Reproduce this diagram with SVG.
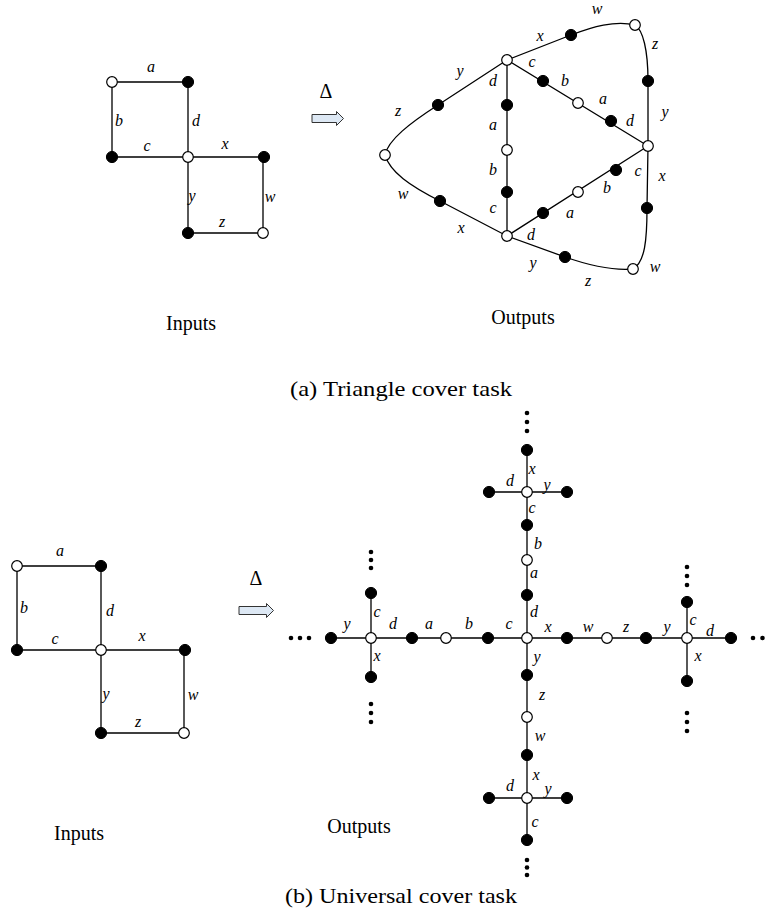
<svg xmlns="http://www.w3.org/2000/svg" width="766" height="917" viewBox="0 0 766 917">
<style>
.e{stroke:#000;stroke-width:1.3;fill:none}
.f{fill:#000;stroke:#000;stroke-width:1}
.o{fill:#fff;stroke:#000;stroke-width:1.2}
.d{fill:#000}
.l{font-family:"Liberation Serif",serif;font-style:italic;font-size:16px;text-anchor:middle}
.t{font-family:"Liberation Serif",serif;font-size:20px;text-anchor:middle}
.c{font-family:"Liberation Serif",serif;font-size:22px;text-anchor:middle}
.ar{fill:#dde8f4;stroke:#333;stroke-width:1}
</style>
<defs>
<circle id="nf" r="5.6" class="f"/>
<circle id="no" r="5.3" class="o"/>
</defs>
<rect width="766" height="917" fill="#fff"/>

<g id="connectors">
<path class="e" d="M112,82H188V233H263V157H112V82"/>
<path class="e" d="M507,60L648,146M507,236L648,146M507,60V236"/>
<path class="e" d="M507,60L571,35C592,27 615,20 635,25C643,30 648,50 648,81L648,146L647,208C647,240 645,262 633,269C610,271 585,264 565,257L507,236L440,201C410,186 390,172 385,155C388,140 410,123 438,105L507,60"/>
<path class="e" d="M17,566H101V733H184V650H17V566"/>
<path class="e" d="M331,638H731M527,450V840M371,593V677M687,602V681M489,492H567M489,798H567"/>
<path class="ar" d="M312,114.5H336.5V111.5L343.5,118.5L336.5,125.5V122.5H312Z"/>
<path class="ar" d="M239,606.5H266.5V603.5L273.5,610.5L266.5,617.5V614.5H239Z"/>
</g>

<g id="top-input-nodes">
<g id="ti1"><use href="#no" x="112" y="82"/></g>
<g id="ti2"><use href="#nf" x="188" y="82"/></g>
<g id="ti3"><use href="#nf" x="112" y="157"/></g>
<g id="ti4"><use href="#no" x="188" y="157"/></g>
<g id="ti5"><use href="#nf" x="264" y="157"/></g>
<g id="ti6"><use href="#nf" x="188" y="233"/></g>
<g id="ti7"><use href="#no" x="263" y="233"/></g>
</g>

<g id="top-output-nodes">
<g id="toA"><use href="#no" x="507" y="60"/></g>
<g id="toB"><use href="#no" x="648" y="146"/></g>
<g id="toC"><use href="#no" x="507" y="236"/></g>
<g id="toP"><use href="#no" x="635" y="25"/></g>
<g id="toQ"><use href="#no" x="633" y="269"/></g>
<g id="toL"><use href="#no" x="385" y="155"/></g>
<g id="to1"><use href="#nf" x="571" y="35"/></g>
<g id="to2"><use href="#nf" x="648" y="81"/></g>
<g id="to3"><use href="#nf" x="543" y="81"/></g>
<g id="to4"><use href="#no" x="578" y="103"/></g>
<g id="to5"><use href="#nf" x="611" y="121"/></g>
<g id="to6"><use href="#nf" x="507" y="105"/></g>
<g id="to7"><use href="#no" x="507" y="150"/></g>
<g id="to8"><use href="#nf" x="507" y="192"/></g>
<g id="to9"><use href="#nf" x="438" y="105"/></g>
<g id="to10"><use href="#nf" x="440" y="201"/></g>
<g id="to11"><use href="#nf" x="543" y="213"/></g>
<g id="to12"><use href="#no" x="578" y="192"/></g>
<g id="to13"><use href="#nf" x="616" y="170"/></g>
<g id="to14"><use href="#nf" x="647" y="208"/></g>
<g id="to15"><use href="#nf" x="565" y="257"/></g>
</g>

<g id="bottom-input-nodes">
<g id="bi1"><use href="#no" x="17" y="566"/></g>
<g id="bi2"><use href="#nf" x="101" y="566"/></g>
<g id="bi3"><use href="#nf" x="17" y="650"/></g>
<g id="bi4"><use href="#no" x="101" y="650"/></g>
<g id="bi5"><use href="#nf" x="185" y="650"/></g>
<g id="bi6"><use href="#nf" x="101" y="733"/></g>
<g id="bi7"><use href="#no" x="184" y="733"/></g>
</g>

<g id="bottom-output-nodes">
<g id="bh1"><use href="#nf" x="331" y="638"/></g>
<g id="bh2"><use href="#no" x="371" y="638"/></g>
<g id="bh3"><use href="#nf" x="412" y="638"/></g>
<g id="bh4"><use href="#no" x="446" y="638"/></g>
<g id="bh5"><use href="#nf" x="488" y="638"/></g>
<g id="bh6"><use href="#no" x="527" y="638"/></g>
<g id="bh7"><use href="#nf" x="567" y="638"/></g>
<g id="bh8"><use href="#no" x="607" y="638"/></g>
<g id="bh9"><use href="#nf" x="646" y="638"/></g>
<g id="bh10"><use href="#no" x="687" y="638"/></g>
<g id="bh11"><use href="#nf" x="731" y="638"/></g>
<g id="bl1"><use href="#nf" x="371" y="593"/></g>
<g id="bl2"><use href="#nf" x="371" y="677"/></g>
<g id="br1"><use href="#nf" x="687" y="602"/></g>
<g id="br2"><use href="#nf" x="687" y="681"/></g>
<g id="bv1"><use href="#nf" x="527" y="450"/></g>
<g id="bv2"><use href="#no" x="527" y="492"/></g>
<g id="bv3"><use href="#nf" x="527" y="525"/></g>
<g id="bv4"><use href="#no" x="527" y="560"/></g>
<g id="bv5"><use href="#nf" x="527" y="595"/></g>
<g id="bv6"><use href="#nf" x="527" y="675"/></g>
<g id="bv7"><use href="#no" x="527" y="717"/></g>
<g id="bv8"><use href="#nf" x="527" y="755"/></g>
<g id="bv9"><use href="#no" x="527" y="798"/></g>
<g id="bv10"><use href="#nf" x="527" y="840"/></g>
<g id="bt1"><use href="#nf" x="489" y="492"/></g>
<g id="bt2"><use href="#nf" x="567" y="492"/></g>
<g id="bb1"><use href="#nf" x="489" y="798"/></g>
<g id="bb2"><use href="#nf" x="567" y="798"/></g>
</g>

<g id="ellipses">
<circle class="d" r="2.3" cx="291" cy="638"/><circle class="d" r="2.3" cx="300" cy="638"/><circle class="d" r="2.3" cx="309" cy="638"/>
<circle class="d" r="2.3" cx="753" cy="638"/><circle class="d" r="2.3" cx="762.5" cy="638"/>
<circle class="d" r="2.3" cx="527" cy="413"/><circle class="d" r="2.3" cx="527" cy="422"/><circle class="d" r="2.3" cx="527" cy="431"/>
<circle class="d" r="2.3" cx="527" cy="860"/><circle class="d" r="2.3" cx="527" cy="867.5"/><circle class="d" r="2.3" cx="527" cy="875"/>
<circle class="d" r="2.3" cx="371" cy="552"/><circle class="d" r="2.3" cx="371" cy="560"/><circle class="d" r="2.3" cx="371" cy="568"/>
<circle class="d" r="2.3" cx="371" cy="704"/><circle class="d" r="2.3" cx="371" cy="713"/><circle class="d" r="2.3" cx="371" cy="722"/>
<circle class="d" r="2.3" cx="687" cy="567"/><circle class="d" r="2.3" cx="687" cy="576"/><circle class="d" r="2.3" cx="687" cy="585"/>
<circle class="d" r="2.3" cx="687" cy="713"/><circle class="d" r="2.3" cx="687" cy="722"/><circle class="d" r="2.3" cx="687" cy="731"/>
</g>

<g id="labels">
<text class="l" x="151" y="72">a</text>
<text class="l" x="119" y="126">b</text>
<text class="l" x="196" y="126">d</text>
<text class="l" x="147" y="151">c</text>
<text class="l" x="225" y="149">x</text>
<text class="l" x="192" y="201">y</text>
<text class="l" x="270" y="202">w</text>
<text class="l" x="222" y="227">z</text>
<text class="l" x="597" y="14">w</text>
<text class="l" x="540" y="41">x</text>
<text class="l" x="655" y="49">z</text>
<text class="l" x="460" y="76">y</text>
<text class="l" x="532" y="67">c</text>
<text class="l" x="493" y="86">d</text>
<text class="l" x="565" y="86">b</text>
<text class="l" x="603" y="104">a</text>
<text class="l" x="630" y="126">d</text>
<text class="l" x="665" y="117">y</text>
<text class="l" x="398" y="116">z</text>
<text class="l" x="493" y="130">a</text>
<text class="l" x="493" y="175">b</text>
<text class="l" x="493" y="213">c</text>
<text class="l" x="403" y="199">w</text>
<text class="l" x="461" y="233">x</text>
<text class="l" x="531" y="240">d</text>
<text class="l" x="570" y="218">a</text>
<text class="l" x="607" y="193">b</text>
<text class="l" x="638" y="176">c</text>
<text class="l" x="662" y="181">x</text>
<text class="l" x="533" y="268">y</text>
<text class="l" x="588" y="286">z</text>
<text class="l" x="655" y="272">w</text>
<text class="l" x="60" y="556">a</text>
<text class="l" x="24" y="613">b</text>
<text class="l" x="110" y="616">d</text>
<text class="l" x="55" y="644">c</text>
<text class="l" x="142" y="641">x</text>
<text class="l" x="106" y="699">y</text>
<text class="l" x="193" y="700">w</text>
<text class="l" x="138" y="727">z</text>
<text class="l" x="347" y="629">y</text>
<text class="l" x="377" y="617">c</text>
<text class="l" x="393" y="629">d</text>
<text class="l" x="429" y="629">a</text>
<text class="l" x="469" y="629">b</text>
<text class="l" x="509" y="629">c</text>
<text class="l" x="377" y="661">x</text>
<text class="l" x="534" y="578">a</text>
<text class="l" x="534" y="617">d</text>
<text class="l" x="548" y="632">x</text>
<text class="l" x="588" y="632">w</text>
<text class="l" x="626" y="632">z</text>
<text class="l" x="667" y="632">y</text>
<text class="l" x="693" y="625">c</text>
<text class="l" x="710" y="636">d</text>
<text class="l" x="698" y="661">x</text>
<text class="l" x="537" y="662">y</text>
<text class="l" x="532" y="474">x</text>
<text class="l" x="510" y="486">d</text>
<text class="l" x="547" y="490">y</text>
<text class="l" x="532" y="513">c</text>
<text class="l" x="538" y="549">b</text>
<text class="l" x="542" y="700">z</text>
<text class="l" x="540" y="741">w</text>
<text class="l" x="536" y="780">x</text>
<text class="l" x="510" y="791">d</text>
<text class="l" x="548" y="794">y</text>
<text class="l" x="535" y="827">c</text>
</g>

<g id="captions">
<text class="t" x="326" y="98">Δ</text>
<text class="t" x="256" y="585">Δ</text>
<text class="t" x="191" y="330">Inputs</text>
<text class="t" x="523" y="324">Outputs</text>
<text class="c" x="401" y="396" textLength="222" lengthAdjust="spacingAndGlyphs">(a) Triangle cover task</text>
<text class="t" x="79" y="840">Inputs</text>
<text class="t" x="359" y="833">Outputs</text>
<text class="c" x="401" y="903" textLength="232" lengthAdjust="spacingAndGlyphs">(b) Universal cover task</text>
</g>
</svg>
